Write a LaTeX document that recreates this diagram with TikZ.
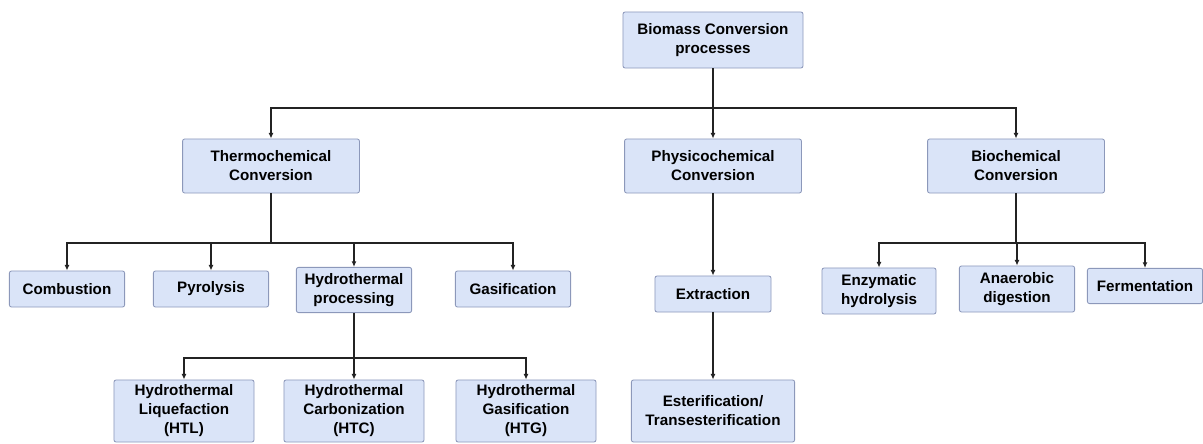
\documentclass[tikz,border=0pt]{standalone}
\usepackage{fontspec}
\setmainfont{Liberation Sans}
\usetikzlibrary{arrows.meta}

\definecolor{boxfill}{RGB}{218,228,248}
\definecolor{boxline}{RGB}{140,152,186}
\definecolor{linkcol}{RGB}{35,35,35}

\tikzset{
    proc/.style={rectangle, rounded corners=1.5pt, draw=boxline, fill=boxfill,
        line width=0.6pt, align=center, inner sep=0pt,
        font=\fontsize{10.8}{13.5}\selectfont\bfseries},
    link/.style={draw=linkcol, line width=0.9pt, -{Latex[length=4pt,width=3.5pt]}},
}

\begin{document}
\begin{tikzpicture}[x=0.025cm,y=-0.025cm]

    \useasboundingbox (0,0) rectangle (1203,444);

    % top level
    \node[proc, minimum width=4.5cm, minimum height=1.4cm] (bio) at (713,40) {Biomass Conversion\\processes};

    % second level
    \node[proc, minimum width=4.42cm, minimum height=1.35cm] (thermo) at (271,166) {Thermochemical\\Conversion};
    \node[proc, minimum width=4.42cm, minimum height=1.35cm] (phys) at (713,166) {Physicochemical\\Conversion};
    \node[proc, minimum width=4.42cm, minimum height=1.35cm] (biochem) at (1016,166) {Biochemical\\Conversion};

    % third level
    \node[proc, minimum width=2.88cm, minimum height=0.9cm] (comb) at (67,289) {Combustion};
    \node[proc, minimum width=2.88cm, minimum height=0.9cm] (pyro) at (211,289) {Pyrolysis};
    \node[proc, minimum width=2.88cm, minimum height=1.13cm] (hproc) at (354,290) {Hydrothermal\\processing};
    \node[proc, minimum width=2.88cm, minimum height=0.9cm] (gasi) at (513,289) {Gasification};
    \node[proc, minimum width=2.9cm, minimum height=0.9cm] (extr) at (713,294) {Extraction};
    \node[proc, minimum width=2.85cm, minimum height=1.15cm] (enz) at (879,291) {Enzymatic\\hydrolysis};
    \node[proc, minimum width=2.88cm, minimum height=1.15cm] (anae) at (1017,289) {Anaerobic\\digestion};
    \node[proc, minimum width=2.88cm, minimum height=0.88cm] (ferm) at (1145,286) {Fermentation};

    % fourth level
    \node[proc, minimum width=3.5cm, minimum height=1.55cm] (htl) at (184,411) {Hydrothermal\\Liquefaction\\(HTL)};
    \node[proc, minimum width=3.5cm, minimum height=1.55cm] (htc) at (354,411) {Hydrothermal\\Carbonization\\(HTC)};
    \node[proc, minimum width=3.5cm, minimum height=1.55cm] (htg) at (526,411) {Hydrothermal\\Gasification\\(HTG)};
    \node[proc, minimum width=4.08cm, minimum height=1.55cm] (ester) at (713,411) {Esterification/\\Transesterification};

    % branch points
    \coordinate (bar1) at (713,108);
    \coordinate (bar2) at (271,243);
    \coordinate (bar3) at (354,358);
    \coordinate (bar4) at (1016,243);

    % connectors
    \draw[link] (bio.south) -- (bar1) -| (thermo.north);
    \draw[link] (bar1) -| (biochem.north);
    \draw[link] (bar1) -- (phys.north);

    \draw[link] (thermo.south) -- (bar2) -| (comb.north);
    \draw[link] (bar2) -| (pyro.north);
    \draw[link] (bar2) -| (hproc.north);
    \draw[link] (bar2) -| (gasi.north);

    \draw[link] (hproc.south) -- (bar3) -| (htl.north);
    \draw[link] (bar3) -- (htc.north);
    \draw[link] (bar3) -| (htg.north);

    \draw[link] (phys.south) -- (extr.north);
    \draw[link] (extr.south) -- (ester.north);

    \draw[link] (biochem.south) -- (bar4) -| (enz.north);
    \draw[link] (bar4) -| (anae.north);
    \draw[link] (bar4) -| (ferm.north);

\end{tikzpicture}
\end{document}
